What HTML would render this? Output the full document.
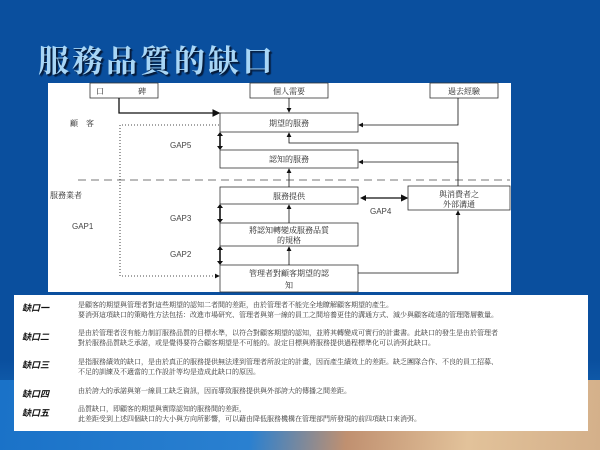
<!DOCTYPE html>
<html><head><meta charset="utf-8"><style>
body{margin:0;width:600px;height:450px;overflow:hidden;position:relative;font-family:"Liberation Serif","Noto Serif CJK SC",serif;
background:linear-gradient(180deg,#0a4f9e 0%,#0a4f9e 80%,#1f78c8 100%);}
.bg2{position:absolute;left:0;top:380px;width:600px;height:70px;background:linear-gradient(95deg,#1a72c8 0%,#2a80d0 42%,#c09070 58%,#e2c29a 78%,#d4b08a 100%);}
h1{position:absolute;left:38px;top:36px;margin:0;font-size:31px;font-weight:bold;color:#a8d6f6;letter-spacing:3px;text-shadow:2px 2px 1px #061c3c,1px 1px 0 #061c3c;font-family:"Noto Serif CJK SC","Noto Sans CJK TC",serif;}
.panel{position:absolute;left:14px;top:295px;width:574px;height:136px;background:#fff;}
.r{position:absolute;font-size:7px;color:#333;line-height:10px;white-space:nowrap;font-family:"Liberation Serif","Noto Serif CJK SC",serif;}
.l{position:absolute;left:8px;font-size:9px;font-weight:bold;font-style:italic;color:#111;font-family:"Noto Sans CJK TC",sans-serif;}
</style></head><body>
<div class="bg2"></div>
<h1>服務品質的缺口</h1>
<svg style="position:absolute;left:0;top:0" width="600" height="295" font-family="Noto Serif CJK SC,serif" font-size="8" fill="#222">
<defs><marker id="a" markerWidth="6" markerHeight="6" refX="5" refY="3" orient="auto"><path d="M0,0L6,3L0,6z" fill="#111"/></marker></defs>
<rect x="48" y="83" width="463" height="209" fill="#fff"/>
<g fill="#fff" stroke="#333" stroke-width="0.8">
<rect x="90" y="83" width="68" height="15"/><rect x="250" y="83" width="78" height="15"/><rect x="430" y="83" width="68" height="15"/>
<rect x="220" y="113" width="138" height="19"/><rect x="220" y="150" width="138" height="18"/>
<rect x="220" y="187" width="138" height="17"/><rect x="220" y="223" width="138" height="23"/><rect x="220" y="265" width="138" height="27"/>
<rect x="408" y="186" width="102" height="24"/></g>
<g text-anchor="middle" font-size="8">
<text x="100" y="94">口</text><text x="142" y="94">碑</text><text x="289" y="94">個人需要</text><text x="464" y="94">過去經驗</text>
<text x="289" y="126">期望的服務</text><text x="289" y="162">認知的服務</text><text x="289" y="199">服務提供</text>
<text x="289" y="233">將認知轉變成服務品質</text><text x="289" y="243">的規格</text>
<text x="289" y="276">管理者對顧客期望的認</text><text x="289" y="288">知</text>
<text x="459" y="197">與消費者之</text><text x="459" y="207">外部溝通</text></g>
<g font-size="8"><text x="70" y="126">顧　客</text><text x="50" y="198">服務業者</text></g>
<g font-family="Liberation Sans,sans-serif" font-size="8" fill="#444"><text x="72" y="229">GAP1</text><text x="170" y="148">GAP5</text><text x="170" y="221">GAP3</text><text x="170" y="257">GAP2</text><text x="370" y="214">GAP4</text></g>
<line x1="78" y1="180" x2="510" y2="180" stroke="#777" stroke-width="1" stroke-dasharray="8,5"/>
<g stroke="#111" stroke-width="0.8" fill="none" marker-end="url(#a)">
<polyline points="119,98 119,113 219,113" stroke-width="1.3"/>
<line x1="289" y1="98" x2="289" y2="112"/>
<polyline points="458,98 458,125 359,125"/>
<polyline points="458,186 458,143 289,143 289,133"/>
<line x1="458" y1="162" x2="359" y2="162" marker-end="url(#a)"/>
<line x1="289" y1="187" x2="289" y2="169"/>
<line x1="289" y1="223" x2="289" y2="205"/>
<line x1="289" y1="265" x2="289" y2="247"/>
<polyline points="358,273 458,273 458,211"/>
<line x1="362" y1="198" x2="407" y2="198" stroke-width="1.2"/>
<polyline points="120,125 120,276 219,276" stroke-dasharray="1,2"/>
<line x1="219" y1="125" x2="120" y2="125" stroke-dasharray="1,2" marker-end="none"/>
</g>
<path d="M366,195L360,198L366,201z" fill="#111"/>
<g stroke="#111" stroke-width="1.6">
<line x1="220" y1="134" x2="220" y2="148"/><line x1="220" y1="206" x2="220" y2="221"/><line x1="220" y1="248" x2="220" y2="263"/></g>
<g fill="#111"><path d="M217,136L220,132L223,136z M217,146L220,150L223,146z M217,208L220,204L223,208z M217,219L220,223L223,219z M217,250L220,246L223,250z M217,261L220,265L223,261z"/></g>
</svg>
<div class="panel">
<div class="l" style="top:6px">缺口一</div>
<div class="r" style="left:64px;top:5px">是顧客的期望與管理者對這些期望的認知二者間的差距，由於管理者不能完全地瞭解顧客期望的產生。<br>要消弭這項缺口的策略性方法包括：改進市場研究、管理者與第一線的員工之間培養更佳的溝通方式、減少與顧客疏遠的管理階層數量。</div>
<div class="l" style="top:35px">缺口二</div>
<div class="r" style="left:64px;top:33px">是由於管理者沒有能力制訂服務品質的目標水準，以符合對顧客期望的認知，並將其轉變成可實行的計畫書。此缺口的發生是由於管理者<br>對於服務品質缺乏承諾，或是覺得要符合顧客期望是不可能的。設定目標與將服務提供過程標準化可以消弭此缺口。</div>
<div class="l" style="top:63px">缺口三</div>
<div class="r" style="left:64px;top:62px">是指服務績效的缺口，是由於真正的服務提供無法達到管理者所設定的計畫，因而產生績效上的差距。缺乏團隊合作、不良的員工招募、<br>不足的訓練及不適當的工作設計等均是造成此缺口的原因。</div>
<div class="l" style="top:92px">缺口四</div>
<div class="r" style="left:64px;top:91px">由於誇大的承諾與第一線員工缺乏資訊，因而導致服務提供與外部誇大的傳播之間差距。</div>
<div class="l" style="top:111px">缺口五</div>
<div class="r" style="left:64px;top:109px">品質缺口，即顧客的期望與實際認知的服務間的差距，<br>此差距受到上述四個缺口的大小與方向所影響，可以藉由降低服務機構在管理部門所發現的前四項缺口來消弭。</div>
</div>
</body></html>
